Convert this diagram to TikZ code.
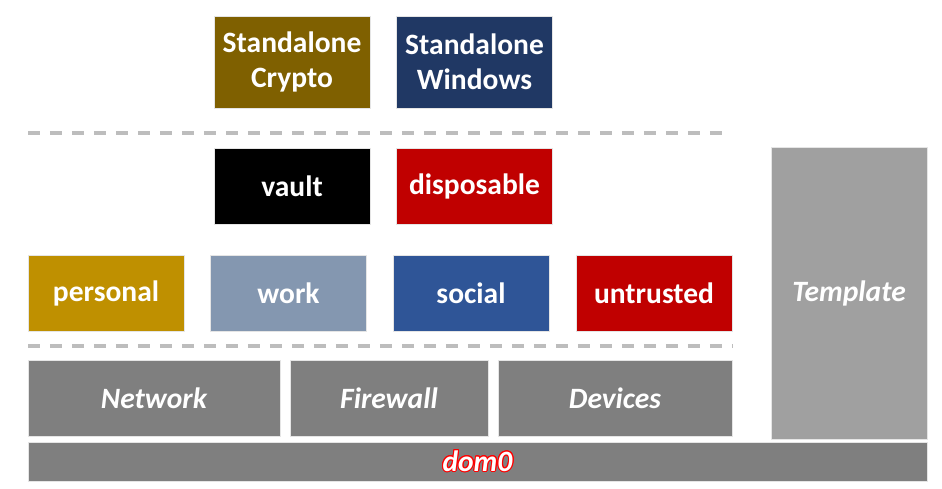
\documentclass[tikz,border=0pt]{standalone}
\usepackage{fontspec}
\setmainfont{Carlito}
\usepackage{contour}
\contourlength{0.6pt}
\definecolor{cryptobrown}{HTML}{7F6000}
\definecolor{winblue}{HTML}{203864}
\definecolor{dispred}{HTML}{C00000}
\definecolor{persgold}{HTML}{BF9000}
\definecolor{workblue}{HTML}{8497B0}
\definecolor{socblue}{HTML}{2F5597}
\definecolor{sysgray}{HTML}{7F7F7F}
\definecolor{tplgray}{HTML}{A0A0A0}
\definecolor{sepgray}{HTML}{BDBDBD}
\begin{document}
\begin{tikzpicture}[x=0.02cm,y=-0.02cm,
  vmbox/.style={rectangle,inner sep=0pt,text=white,align=center,
    font=\bfseries\fontsize{16.8}{19.9}\selectfont,draw=white!80!gray,line width=0.4pt},
  sysbox/.style={vmbox,fill=sysgray,font=\bfseries\itshape\fontsize{16.8}{19.9}\selectfont},
  sepline/.style={draw=sepgray,line width=2.2pt,dash pattern=on 0.24cm off 0.2cm}]
\useasboundingbox (0,0) rectangle (942,489);
\def\bw{156}
\def\bh{76}
%standalone
\foreach\n/\x/\c/\t in {crypto/292/cryptobrown/{Standalone\\Crypto},windows/474.5/winblue/{Standalone\\Windows}} {
  \node[vmbox,fill=\c,minimum width=\bw*0.02cm,minimum height=92*0.02cm] (\n) at (\x,62) {\t};
}
%dispvms
\foreach\n/\x/\c in {vault/292/black,disposable/474.5/dispred} {
  \node[vmbox,fill=\c,minimum width=\bw*0.02cm,minimum height=\bh*0.02cm] (\n) at (\x,186) {\n};
}
%appvms
\foreach\n/\x/\c in {personal/106/persgold,work/288.5/workblue,social/471/socblue,untrusted/654/dispred} {
  \node[vmbox,fill=\c,minimum width=\bw*0.02cm,minimum height=\bh*0.02cm] (\n) at (\x,293) {\n};
}
%service vms
\foreach\n/\x/\w/\t in {net/154/252/Network,fw/389/198/Firewall,dev/615/234/Devices} {
  \node[sysbox,minimum width=\w*0.02cm,minimum height=\bh*0.02cm] (\n) at (\x,398) {\t};
}
\node[sysbox,fill=tplgray,minimum width=\bw*0.02cm,minimum height=292*0.02cm] (template) at (849,293) {Template};
\node[sysbox,minimum width=899*0.02cm,minimum height=39*0.02cm] (dom0) at (477.5,461.5)
  {\textcolor{white}{\contour{red}{dom0}}};
%separators
\coordinate (sepA-w) at (28,133);
\coordinate (sepA-e) at (730,133);
\coordinate (sepB-w) at (28,346);
\coordinate (sepB-e) at (733,346);
\draw[sepline] (sepA-w) -- (sepA-e);
\draw[sepline] (sepB-w) -- (sepB-e);
\end{tikzpicture}
\end{document}
